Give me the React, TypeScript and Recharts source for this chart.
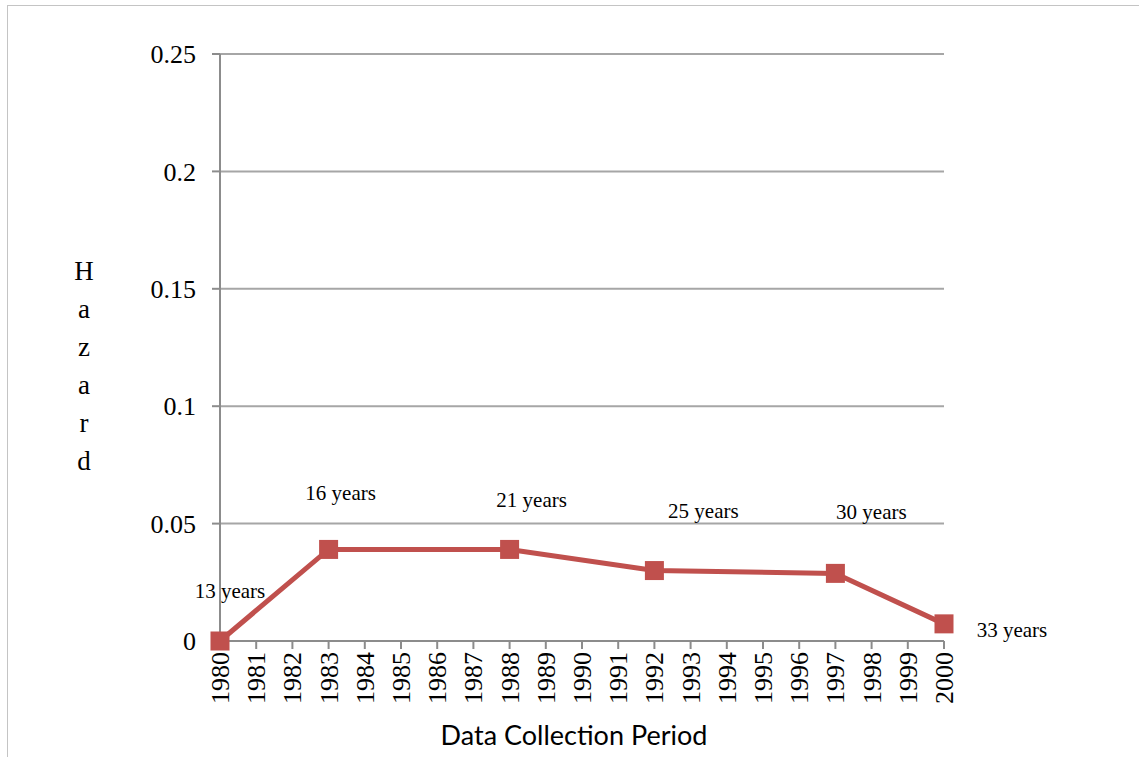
import { LineChart, Line, XAxis, YAxis, CartesianGrid, LabelList } from 'recharts';

// Survey years on the category axis
const years = [
  '1980', '1981', '1982', '1983', '1984', '1985', '1986', '1987', '1988', '1989', '1990',
  '1991', '1992', '1993', '1994', '1995', '1996', '1997', '1998', '1999', '2000',
];

// Hazard estimates, only at the data collection waves
const hazard: (number | null)[] = [
  0, null, null, 0.039, null, null, null, null, 0.039, null, null,
  null, 0.03, null, null, null, null, 0.0288, null, null, 0.0073,
];

// Follow-up duration label for each wave
const durations: (string | null)[] = [
  '13 years', null, null, '16 years', null, null, null, null, '21 years', null, null,
  null, '25 years', null, null, null, null, '30 years', null, null, '33 years',
];

const yTicks = [0, 0.05, 0.1, 0.15, 0.2, 0.25];

const data = years.map((year, i) => ({ year, hazard: hazard[i], duration: durations[i] }));

// where each data label sits relative to its marker (mimics hand-placed labels)
const labelOffsets: Record<string, [number, number]> = {
  '1980': [10, -50],
  '1983': [12, -56],
  '1988': [22, -49],
  '1992': [49, -60],
  '1997': [36, -61],
  '2000': [68, 6],
};

const RED = '#c0504d';
const AXIS = '#8c8c8c';
const SERIF = '"Liberation Serif", "Times New Roman", serif';

const XTick = (props: any) => {
  const { x, y, payload } = props;
  return (
    <text
      x={x}
      y={y}
      transform={`rotate(-90, ${x}, ${y})`}
      textAnchor="end"
      dy="0.35em"
      fontSize={26}
      fontFamily={SERIF}
      fill="#000"
    >
      {payload.value}
    </text>
  );
};

const SquareDot = (props: any) => {
  const { cx, cy, value, index } = props;
  if (value == null || cx == null || cy == null) return <g key={`d${index}`} />;
  return <rect key={`d${index}`} x={cx - 9.5} y={cy - 9.5} width={19} height={19} fill={RED} />;
};

const renderLabel = (props: any) => {
  const { x, y, value, index } = props;
  if (!value) return null;
  const off = labelOffsets[years[index]] || [0, -30];
  return (
    <text
      x={x + off[0]}
      y={y + off[1]}
      textAnchor="middle"
      dominantBaseline="central"
      fontSize={21}
      fontFamily={SERIF}
      fill="#000"
    >
      {value}
    </text>
  );
};

export default function App() {
  return (
    <div style={{ position: 'absolute', left: 0, top: 0, width: 1139, height: 757, background: '#fff', fontFamily: SERIF }}>
      <div
        style={{
          position: 'absolute',
          left: 7,
          top: 5,
          width: 1140,
          height: 760,
          borderTop: '1.5px solid #c4c4c4',
          borderLeft: '1.5px solid #c4c4c4',
        }}
      />
      <LineChart width={1139} height={757} data={data} margin={{ top: 54, right: 195, left: 0, bottom: 0 }}>
        <CartesianGrid vertical={false} stroke="#a6a6a6" strokeWidth={2} />
        <XAxis
          dataKey="year"
          interval={0}
          height={116}
          tick={<XTick />}
          tickSize={8}
          tickMargin={3}
          axisLine={{ stroke: AXIS, strokeWidth: 2 }}
          tickLine={{ stroke: AXIS, strokeWidth: 2 }}
        />
        <YAxis
          width={220}
          domain={[0, 0.25]}
          ticks={yTicks}
          interval={0}
          tickSize={8}
          tickMargin={16}
          tick={{ fontSize: 26, fontFamily: SERIF, fill: '#000' }}
          axisLine={{ stroke: AXIS, strokeWidth: 2 }}
          tickLine={{ stroke: AXIS, strokeWidth: 2 }}
        />
        <Line
          type="linear"
          dataKey="hazard"
          stroke={RED}
          strokeWidth={5}
          connectNulls
          dot={SquareDot}
          activeDot={false}
          isAnimationActive={false}
        >
          <LabelList dataKey="duration" content={renderLabel} />
        </Line>
      </LineChart>
      <div
        style={{
          position: 'absolute',
          left: 64,
          top: 252,
          width: 40,
          textAlign: 'center',
          fontSize: 27,
          lineHeight: '38px',
          fontFamily: SERIF,
        }}
      >
        {'Hazard'.split('').map((ch, i) => (
          <div key={i}>{ch}</div>
        ))}
      </div>
      <div
        style={{
          position: 'absolute',
          left: 374,
          width: 400,
          top: 718,
          textAlign: 'center',
          fontSize: 27,
          fontFamily: 'Lato, "Open Sans", sans-serif',
          color: '#000',
        }}
      >
        Data Collection Period
      </div>
    </div>
  );
}
